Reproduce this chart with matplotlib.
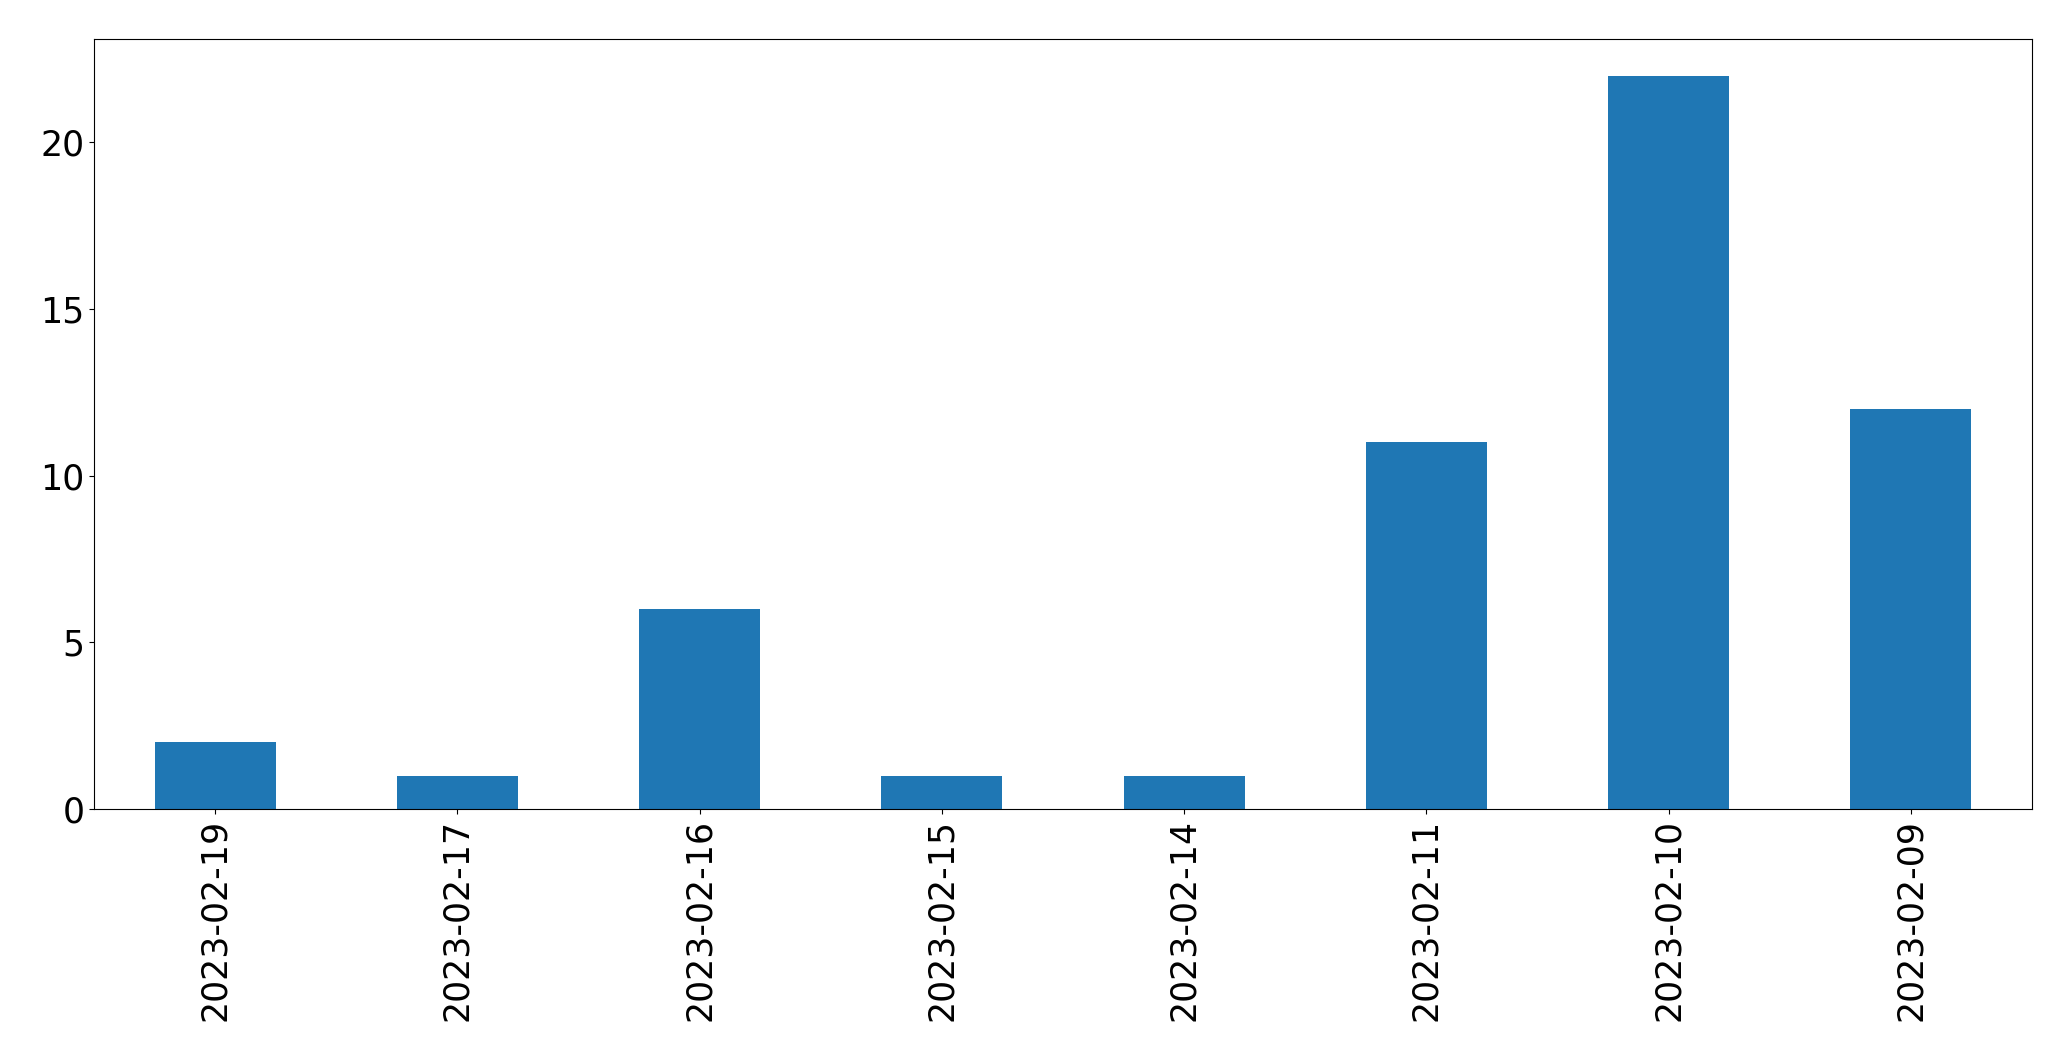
import matplotlib
matplotlib.use('Agg')
import matplotlib.pyplot as plt

# Dates and counts
dates = ['2023-02-19', '2023-02-17', '2023-02-16', '2023-02-15',
         '2023-02-14', '2023-02-11', '2023-02-10', '2023-02-09']
counts = [2, 1, 6, 1, 1, 11, 22, 12]

fig = plt.figure(figsize=(20.71, 10.61), dpi=100)
ax = fig.add_axes([94 / 2071, 1 - 809 / 1061, 1938 / 2071, 770 / 1061])

positions = range(len(dates))
ax.bar(positions, counts, width=0.5, color='#1f77b4')
ax.set_xticks(list(positions))
ax.set_xticklabels(dates, rotation=90)
ax.set_xlim(-0.5, len(dates) - 0.5)
ax.set_ylim(0, max(counts) * 1.05)
ax.set_yticks([0, 5, 10, 15, 20])
ax.tick_params(labelsize=25)

fig.savefig('out.png', dpi=100)
